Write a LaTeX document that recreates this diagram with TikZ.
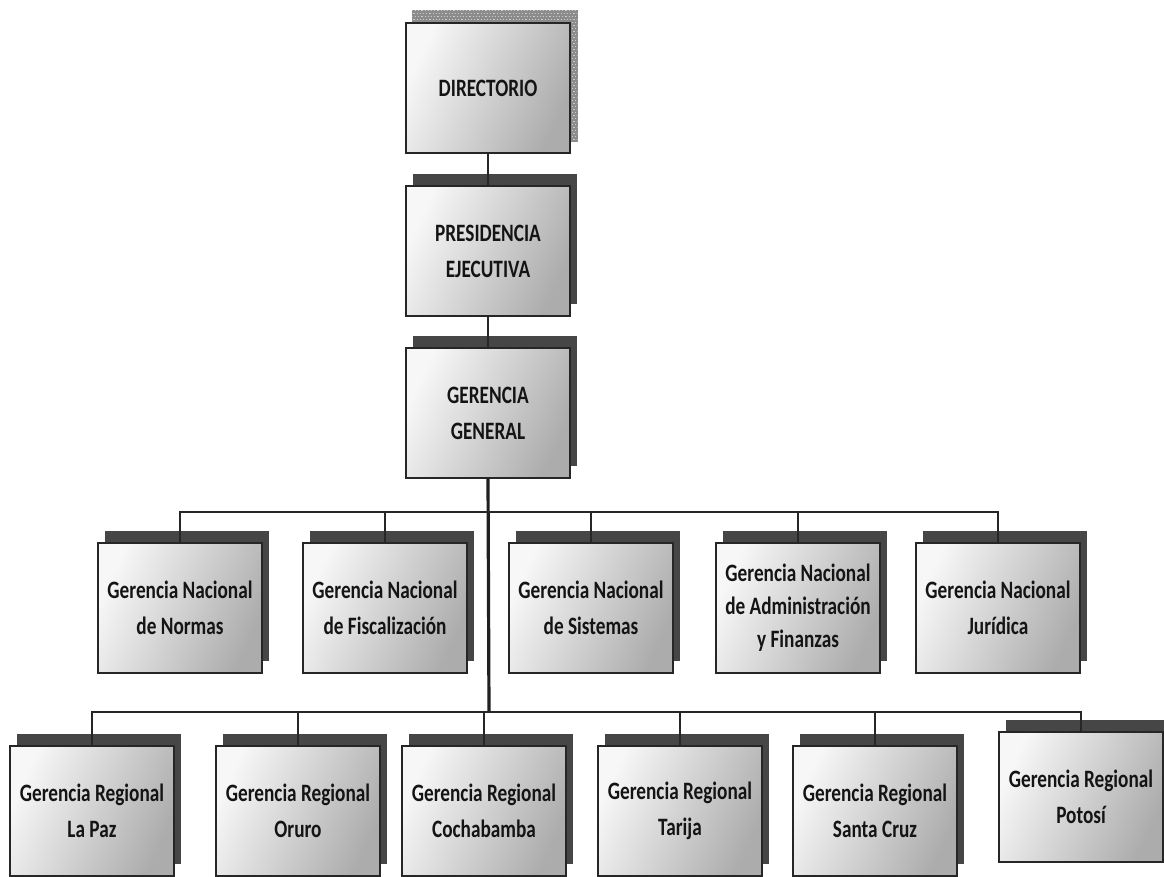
\documentclass[tikz,border=0pt]{standalone}
\usepackage{fontspec}
\newfontfamily\boxfont{Carlito}[FakeStretch=0.77]
\usetikzlibrary{shadows,backgrounds}
\begin{document}
\begin{tikzpicture}[x=1pt,y=-1pt,
  unitbox/.style={draw=gray!30!black, line width=1.2pt,
    left color=gray!6, right color=gray!65, shading angle=65,
    minimum width=164pt, minimum height=130pt, inner sep=0pt,
    align=center, font=\boxfont\bfseries\fontsize{25}{36}\selectfont,
    text=black!92},
  solidshadow/.style={general shadow={shadow xshift=7pt, shadow yshift=12pt, fill=gray!55!black}},
  dotfill/.style={fill=gray!90},
  dotrow/.style={draw=gray!40, line width=1.2pt, dash pattern=on 1.2pt off 2pt},
  link/.style={draw=gray!30!black, line width=2.6pt},
  trunk/.style={draw=gray!25!black, line width=3.2pt}]
\useasboundingbox (0,0) rectangle (1164,877);

\node[unitbox] (dir) at (488,88) {DIRECTORIO};
\node[unitbox, solidshadow] (pre) at (488,251) {PRESIDENCIA\\EJECUTIVA};
\node[unitbox, solidshadow] (gg) at (488,413) {GERENCIA\\GENERAL};

\node[unitbox, solidshadow] (n1) at (180,608) {Gerencia Nacional\\de Normas};
\node[unitbox, solidshadow] (n2) at (385,608) {Gerencia Nacional\\de Fiscalización};
\node[unitbox, solidshadow] (n3) at (591,608) {Gerencia Nacional\\de Sistemas};
\node[unitbox, solidshadow, font=\boxfont\bfseries\fontsize{25}{33}\selectfont] (n4) at (798,608) {Gerencia Nacional\\de Administración\\y Finanzas};
\node[unitbox, solidshadow] (n5) at (998,608) {Gerencia Nacional\\Jurídica};

\node[unitbox, solidshadow] (r1) at (92,811) {Gerencia Regional\\La Paz};
\node[unitbox, solidshadow] (r2) at (298,811) {Gerencia Regional\\Oruro};
\node[unitbox, solidshadow] (r3) at (484,811) {Gerencia Regional\\Cochabamba};
\node[unitbox, solidshadow] (r4) at (680,811) {Gerencia Regional\\Tarija};
\node[unitbox, solidshadow] (r5) at (875,811) {Gerencia Regional\\Santa Cruz};
\node[unitbox, solidshadow] (r6) at (1081,797) {Gerencia Regional\\Potosí};

\begin{scope}[on background layer]
  \fill[white] (0,0) rectangle (1164,877);
  \fill[dotfill] ([shift={(7,-12)}]dir.south west) rectangle ([shift={(7,-12)}]dir.north east);
  \begin{scope}
    \clip ([shift={(7,-12)}]dir.south west) rectangle ([shift={(7,-12)}]dir.north east);
    \foreach \k in {0,...,46} {
      \draw[dotrow, dash phase={mod(\k,2)*1.6pt}] ([shift={(0,-12+\k*3)}]dir.north west) -- ([shift={(14,-12+\k*3)}]dir.north east);
    }
  \end{scope}
\end{scope}

\coordinate (b1) at (489,512);
\coordinate (b2) at (489,712);

\draw[link] (dir.south) -- (pre.north);
\draw[link] (pre.south) -- (gg.north);
\draw[trunk] (gg.south) -- (b2);

\draw[link] (n1.north) -- (n1.north |- b1) -- (n5.north |- b1) -- (n5.north);
\foreach \n in {n2,n3,n4} \draw[link] (\n.north) -- (\n.north |- b1);

\draw[link] (r1.north) -- (r1.north |- b2) -- (r6.north |- b2) -- (r6.north);
\foreach \n in {r2,r3,r4,r5} \draw[link] (\n.north) -- (\n.north |- b2);
\end{tikzpicture}
\end{document}
